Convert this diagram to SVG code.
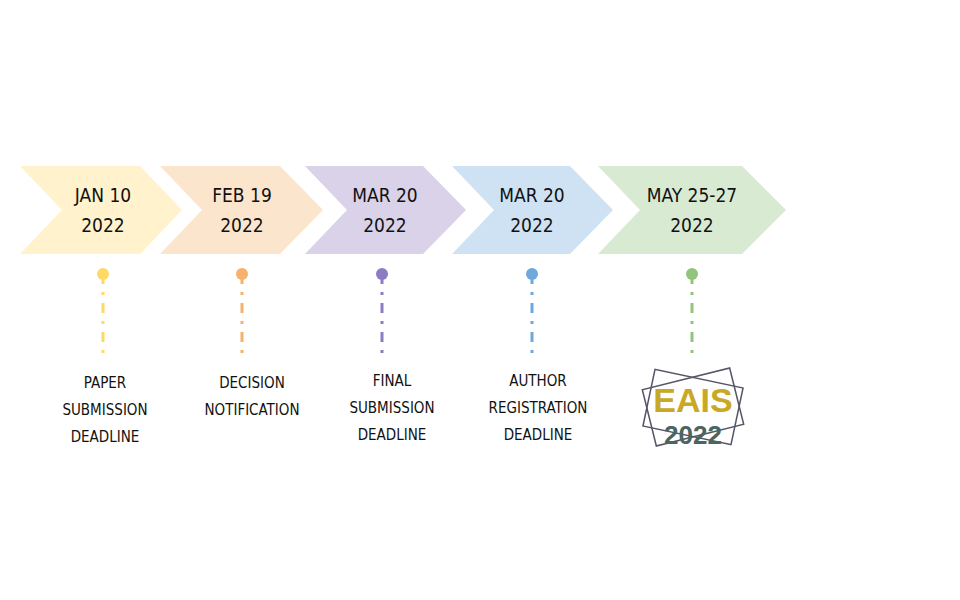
<svg xmlns="http://www.w3.org/2000/svg" width="960" height="600" viewBox="0 0 960 600">
<style>
.t{font-family:"DejaVu Sans Condensed","DejaVu Sans",sans-serif;font-stretch:condensed;font-size:19px;fill:#111;text-anchor:middle}
.l{font-family:"DejaVu Sans Condensed","DejaVu Sans",sans-serif;font-stretch:condensed;font-size:15px;fill:#111;text-anchor:middle}
.c{stroke-width:3;stroke-dasharray:10 8 3 8}
</style>
<rect width="960" height="600" fill="#fff"/>
<g id="n1"><polygon points="20,166 140,166 182,210 140,254 20,254 62,210" fill="#fff2cc"/><text class="t" x="103" y="202">JAN 10</text><text class="t" x="103" y="232">2022</text></g>
<g id="n2"><polygon points="160,166 280,166 323,210 280,254 160,254 202,210" fill="#fce5cd"/><text class="t" x="242" y="202">FEB 19</text><text class="t" x="242" y="232">2022</text></g>
<g id="n3"><polygon points="305,166 423,166 466,210 423,254 305,254 347,210" fill="#d9d2e9"/><text class="t" x="385" y="202">MAR 20</text><text class="t" x="385" y="232">2022</text></g>
<g id="n4"><polygon points="452,166 570,166 613,210 570,254 452,254 494,210" fill="#cfe2f3"/><text class="t" x="532" y="202">MAR 20</text><text class="t" x="532" y="232">2022</text></g>
<g id="n5"><polygon points="598,166 742,166 786,210 742,254 598,254 640,210" fill="#d9ead3"/><text class="t" x="692" y="202">MAY 25-27</text><text class="t" x="692" y="232">2022</text></g>
<g id="connectors">
<circle cx="103" cy="274" r="6" fill="#ffd966"/><line x1="103" y1="274" x2="103" y2="357" stroke="#ffd966" class="c"/>
<circle cx="242" cy="274" r="6" fill="#f6b26b"/><line x1="242" y1="274" x2="242" y2="357" stroke="#f6b26b" class="c"/>
<circle cx="382" cy="274" r="6" fill="#8e7cc3"/><line x1="382" y1="274" x2="382" y2="357" stroke="#8e7cc3" class="c"/>
<circle cx="532" cy="274" r="6" fill="#6fa8dc"/><line x1="532" y1="274" x2="532" y2="357" stroke="#6fa8dc" class="c"/>
<circle cx="692" cy="274" r="6" fill="#93c47d"/><line x1="692" y1="274" x2="692" y2="357" stroke="#93c47d" class="c"/>
</g>
<g id="labels">
<text class="l" x="105" y="388">PAPER</text><text class="l" x="105" y="415">SUBMISSION</text><text class="l" x="105" y="442">DEADLINE</text>
<text class="l" x="252" y="388">DECISION</text><text class="l" x="252" y="415">NOTIFICATION</text>
<text class="l" x="392" y="386">FINAL</text><text class="l" x="392" y="413">SUBMISSION</text><text class="l" x="392" y="440">DEADLINE</text>
<text class="l" x="538" y="386">AUTHOR</text><text class="l" x="538" y="413">REGISTRATION</text><text class="l" x="538" y="440">DEADLINE</text>
</g>
<g id="logo">
<rect x="648" y="378" width="90" height="58" fill="none" stroke="#556" stroke-width="1.5" transform="rotate(-14 693 407)"/>
<rect x="648" y="378" width="90" height="58" fill="none" stroke="#556" stroke-width="1.5" transform="rotate(12 693 407)"/>
<text x="693" y="412" font-family="Liberation Sans,Arial,sans-serif" font-weight="bold" font-size="34" fill="#c9a825" text-anchor="middle">EAIS</text>
<text x="693" y="444" font-family="Liberation Sans,Arial,sans-serif" font-weight="bold" font-size="26" fill="#4a6660" text-anchor="middle">2022</text>
</g>
</svg>
